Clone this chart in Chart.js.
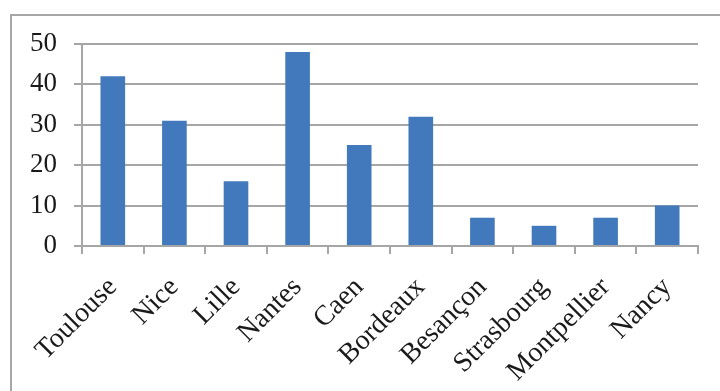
<!DOCTYPE html>
<html>
<head>
<meta charset="utf-8">
<script src="https://cdn.jsdelivr.net/npm/chart.js@4/dist/chart.umd.min.js"></script>
<style>
  html, body { margin: 0; padding: 0; background: #fff; }
  #wrap { position: relative; width: 720px; height: 391px; overflow: hidden; }
  #frame { position: absolute; left: 10px; top: 14px; width: 760px; height: 420px;
           border: 2px solid #a6a6a6; box-sizing: border-box; }
  #c { position: absolute; left: 0; top: 0; }
</style>
</head>
<body>
<div id="wrap">
  <div id="frame"></div>
  <canvas id="c" width="720" height="391"></canvas>
</div>
<script>
const cities = ["Toulouse", "Nice", "Lille", "Nantes", "Caen", "Bordeaux", "Besançon", "Strasbourg", "Montpellier", "Nancy"];
const counts = [42, 31, 16, 48, 25, 32, 7, 5, 7, 10];
const yTicks = [0, 10, 20, 30, 40, 50];

const serif = "'Liberation Serif', 'DejaVu Serif', serif";
const gridGray = '#a6a6a6';

new Chart(document.getElementById('c'), {
  type: 'bar',
  data: {
    labels: cities,
    datasets: [{
      data: counts,
      backgroundColor: '#4279bc',
      borderWidth: 0,
      barPercentage: 0.4,
      categoryPercentage: 1.0
    }]
  },
  options: {
    responsive: false,
    animation: false,
    layout: { padding: { top: 44, right: 22, left: 0, bottom: 0 } },
    plugins: { legend: { display: false }, tooltip: { enabled: false } },
    scales: {
      x: {
        grid: { drawOnChartArea: false, drawTicks: true, tickLength: 8, color: gridGray, lineWidth: 2 },
        border: { color: gridGray, width: 2 },
        ticks: {
          minRotation: 45, maxRotation: 45, autoSkip: false, padding: 17,
          color: '#1a1a1a', font: { family: serif, size: 28 }
        },
        afterFit: s => { s.height = 145; }
      },
      y: {
        min: 0, max: 50,
        afterBuildTicks: s => { s.ticks = yTicks.map(v => ({ value: v })); },
        grid: { color: gridGray, lineWidth: 2, tickLength: 8 },
        border: { color: gridGray, width: 2 },
        ticks: {
          padding: 17, color: '#1a1a1a', font: { family: serif, size: 27 }
        },
        afterFit: s => { s.width = 82; }
      }
    }
  }
});
</script>
</body>
</html>
